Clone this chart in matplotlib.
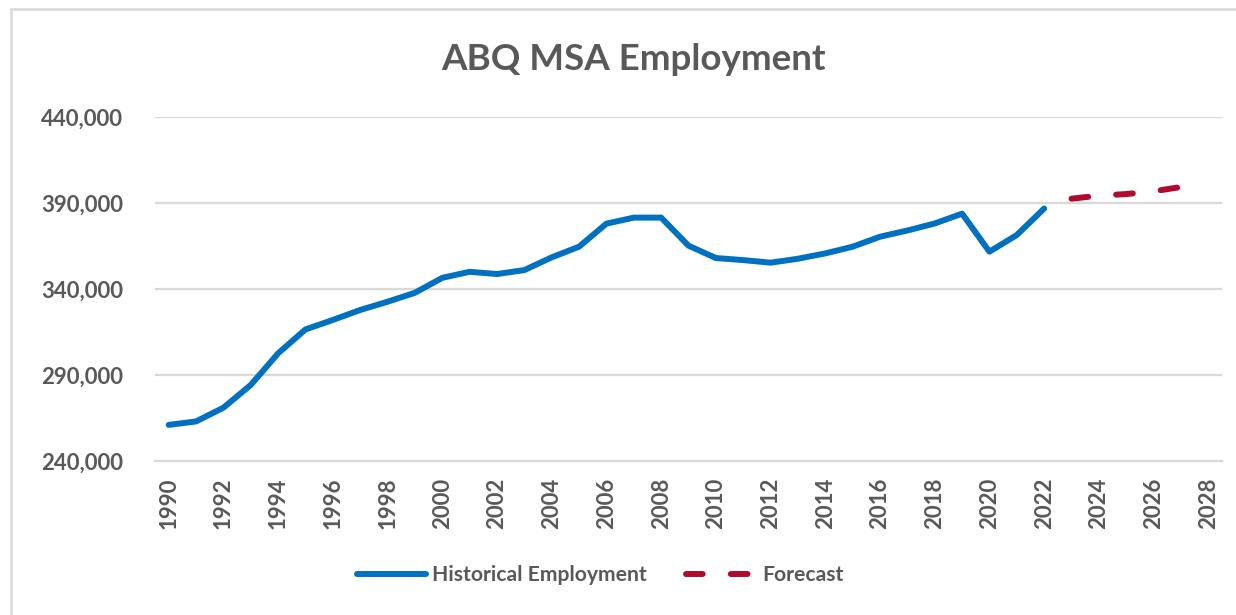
import matplotlib
matplotlib.use("Agg")
import matplotlib.pyplot as plt
from matplotlib import font_manager
from matplotlib.lines import Line2D
from matplotlib.ticker import FuncFormatter

# Albuquerque MSA total employment (annual)
hist_years = list(range(1990, 2023))
hist_values = [
    261000, 263000, 271000, 284200, 302600, 316500, 322000, 327800, 332600,
    337800, 346500, 350000, 348700, 351000, 358400, 364600, 378000, 381500,
    381500, 365200, 358000, 356800, 355300, 357600, 360700, 364600, 370400,
    374000, 378100, 383800, 361700, 371400, 386800,
]
forecast_years = list(range(2023, 2028))
forecast_values = [392500, 394300, 395200, 396800, 399300]

y_ticks = [240000, 290000, 340000, 390000, 440000]
x_ticks = list(range(1990, 2029, 2))

title = "ABQ MSA Employment"
hist_label = "Historical Employment"
forecast_label = "Forecast"

BLUE = "#0070C0"
RED = "#B10A2F"
TEXT = "#595959"
GRID = "#D9D9D9"


def _weight(w):
    if isinstance(w, (int, float)):
        return w
    return {"bold": 700, "semibold": 600, "demibold": 600, "heavy": 800,
            "black": 900, "extra bold": 800}.get(str(w).lower(), 400)


def pick_bold_family(candidates):
    """First candidate family that ships a real bold face."""
    for fam in candidates:
        for f in font_manager.fontManager.ttflist:
            if f.name == fam and _weight(f.weight) >= 700 and f.style == "normal":
                return fam
    return "DejaVu Sans"


FAMILY = pick_bold_family(["Lato", "Roboto", "Open Sans", "Noto Sans", "Inter"])
plt.rcParams["font.family"] = [FAMILY, "DejaVu Sans"]
plt.rcParams["font.weight"] = "bold"

fig = plt.figure(figsize=(12.36, 6.15), dpi=100)
ax = fig.add_axes([155 / 1236, 1 - 461 / 615, (1222 - 155) / 1236, (461 - 117) / 615])

ax.plot(hist_years, hist_values, color=BLUE, lw=4.3, solid_capstyle="round",
        solid_joinstyle="round", label=hist_label)
ax.plot(forecast_years, forecast_values, color=RED, lw=4.3, dashes=(2.8, 4.7),
        dash_capstyle="round", label=forecast_label)

ax.set_xlim(1989.5, 2028.5)
ax.set_ylim(y_ticks[0], y_ticks[-1])
ax.set_yticks(y_ticks)
ax.yaxis.set_major_formatter(FuncFormatter(lambda v, p: f"{int(v):,}"))
ax.set_xticks(x_ticks)
ax.tick_params(axis="y", length=0, pad=23, labelsize=16, labelcolor=TEXT)
ax.tick_params(axis="x", length=0, pad=12, labelsize=16, labelcolor=TEXT,
               labelrotation=90)

ax.grid(axis="y", color=GRID, lw=1.6)
ax.set_axisbelow(True)
for side in ("left", "right", "top"):
    ax.spines[side].set_visible(False)
ax.spines["bottom"].set_color(GRID)
ax.spines["bottom"].set_linewidth(1.6)

fig.text(633 / 1236, 1 - 59 / 615, title, ha="center", va="center", fontsize=26.5,
         fontweight="bold", color=TEXT)

leg = fig.legend(loc="center", bbox_to_anchor=(600 / 1236, 1 - 575 / 615), ncol=2,
                 frameon=False, fontsize=15.2, handlelength=3.3,
                 handletextpad=0.28, columnspacing=1.85)
for t in leg.get_texts():
    t.set_color(TEXT)

# chart frame
fig.add_artist(Line2D([11 / 1236, 11 / 1236], [0, 1 - 9 / 615], color=GRID, lw=1.8,
                      transform=fig.transFigure))
fig.add_artist(Line2D([11 / 1236, 1], [1 - 9 / 615, 1 - 9 / 615], color=GRID, lw=1.8,
                      transform=fig.transFigure))

fig.savefig("out.png", dpi=100, facecolor="white")
